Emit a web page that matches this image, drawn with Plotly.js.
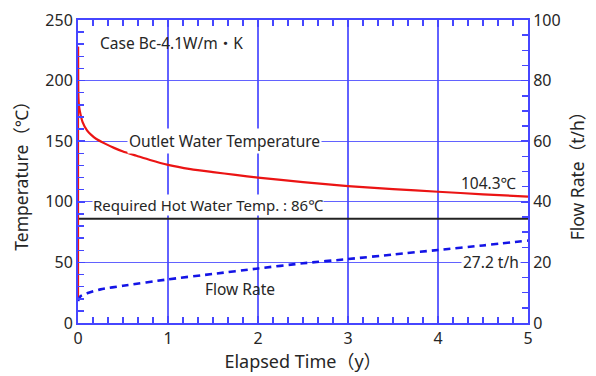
<!DOCTYPE html>
<html>
<head>
<meta charset="utf-8">
<script src="https://cdn.plot.ly/plotly-3.0.1.min.js"></script>
<style>
  html, body { margin: 0; padding: 0; background: #fff; }
  #chart { width: 596px; height: 376px; }
</style>
</head>
<body>
<div id="chart"></div>
<script>
// Outlet water temperature over elapsed time (left axis, °C)
const tempYears = [0, 0, 0.003, 0.01, 0.02, 0.05, 0.1, 0.15, 0.2, 0.3, 0.4, 0.5, 0.65, 0.8, 1, 1.25, 1.5, 1.75, 2, 2.5, 3, 3.5, 4, 4.5, 5];
const tempValues = [21, 228, 190, 180, 175, 166, 159, 155, 152, 148, 144.5, 141.5, 138, 134.5, 130.5, 127, 124.5, 122.2, 120, 116.3, 113, 110.5, 108.3, 106.2, 104.3];

// Flow rate over elapsed time (right axis, t/h)
const flowYears = [0, 0.03, 0.1, 0.25, 0.5, 1, 1.5, 2, 2.5, 3, 3.5, 4, 4.5, 5];
const flowValues = [7.3, 8.9, 9.8, 11.1, 12.3, 14.4, 16.2, 18.0, 19.7, 21.1, 22.6, 24.1, 25.6, 27.2];

// Required hot water temperature (°C)
const requiredYears = [0, 5];
const requiredTemp = 86;

const finalTemp = tempValues[tempValues.length - 1];
const finalFlow = flowValues[flowValues.length - 1];

const FONT = '"Noto Sans", "Noto Sans CJK JP", sans-serif';
const TXT = '#262626';
const AXIS_BLUE = 'rgb(70,70,255)';
const GRID_BLUE = 'rgba(70,70,255,0.85)';
const RED = 'rgb(235,20,20)';

const traces = [
  {
    x: requiredYears, y: requiredYears.map(() => requiredTemp),
    type: 'scatter', mode: 'lines', yaxis: 'y',
    line: { color: '#222', width: 2 }, hoverinfo: 'skip', cliponaxis: false
  },
  // start-up jump at t = 0
  {
    x: tempYears.slice(0, 2), y: tempValues.slice(0, 2),
    type: 'scatter', mode: 'lines', yaxis: 'y',
    line: { color: RED, width: 2.2 }, cliponaxis: false
  },
  // decay of outlet temperature
  {
    x: tempYears.slice(1), y: tempValues.slice(1),
    type: 'scatter', mode: 'lines', yaxis: 'y',
    line: { color: RED, width: 2.2, shape: 'spline', smoothing: 0.6 }, cliponaxis: false
  },
  {
    x: flowYears, y: flowValues,
    type: 'scatter', mode: 'lines', yaxis: 'y2',
    line: { color: 'rgb(20,20,230)', width: 2.6, dash: '7px,5px', shape: 'spline', smoothing: 0.6 }, cliponaxis: false
  }
];

const axisCommon = {
  showline: true, linecolor: AXIS_BLUE, linewidth: 2,
  ticks: 'inside', ticklen: 7, tickwidth: 1.5, tickcolor: AXIS_BLUE,
  zeroline: false,
  tickfont: { family: FONT, size: 16, color: TXT }
};

const ANN_FONT = { family: FONT, size: 15.5, color: TXT };

const layout = {
  width: 596, height: 376,
  margin: { l: 78, r: 68, t: 20, b: 53 },
  paper_bgcolor: '#fff', plot_bgcolor: '#fff',
  showlegend: false,
  font: { family: FONT, color: TXT },
  xaxis: Object.assign({}, axisCommon, {
    range: [0, 5], dtick: 1, mirror: 'ticks',
    showgrid: true, gridcolor: GRID_BLUE, gridwidth: 1.3,
    minor: { dtick: 1 / 6, ticks: 'inside', ticklen: 6, tickwidth: 1.5, tickcolor: AXIS_BLUE, showgrid: false },
    title: { text: 'Elapsed Time（y）', font: { family: FONT, size: 18, color: TXT }, standoff: 7 }
  }),
  yaxis: Object.assign({}, axisCommon, {
    range: [0, 250], dtick: 50,
    showgrid: true, gridcolor: GRID_BLUE, gridwidth: 1.3,
    minor: { dtick: 10, ticks: 'inside', ticklen: 6, tickwidth: 1.5, tickcolor: AXIS_BLUE, showgrid: false },
    title: { text: 'Temperature（℃）', font: { family: FONT, size: 17.5, color: TXT }, standoff: 12 }
  }),
  yaxis2: Object.assign({}, axisCommon, {
    range: [0, 100], dtick: 20, overlaying: 'y', side: 'right',
    showgrid: false,
    minor: { dtick: 5, ticks: 'inside', ticklen: 6, tickwidth: 1.5, tickcolor: AXIS_BLUE },
    title: { text: 'Flow Rate（t/h）', font: { family: FONT, size: 17.5, color: TXT }, standoff: 12 }
  }),
  annotations: [
    { text: 'Case Bc-4.1W/m・K', x: 0.22, y: 231, xref: 'x', yref: 'y', xanchor: 'left', yanchor: 'middle',
      showarrow: false, font: ANN_FONT },
    { text: 'Outlet Water Temperature', x: 0.54, y: 150, xref: 'x', yref: 'y', xanchor: 'left', yanchor: 'middle',
      showarrow: false, bgcolor: '#fff', borderpad: 1, font: ANN_FONT },
    { text: 'Required Hot Water Temp. : ' + requiredTemp + '℃', x: 0.15, y: 97.5, xref: 'x', yref: 'y', xanchor: 'left', yanchor: 'middle',
      showarrow: false, bgcolor: '#fff', borderpad: 0, font: { family: FONT, size: 15, color: TXT } },
    { text: finalTemp.toFixed(1) + '℃', x: 4.9, y: 115.8, xref: 'x', yref: 'y', xanchor: 'right', yanchor: 'middle',
      showarrow: false, font: ANN_FONT },
    { text: finalFlow.toFixed(1) + ' t/h', x: 4.92, y: 20, xref: 'x', yref: 'y2', xanchor: 'right', yanchor: 'middle',
      showarrow: false, bgcolor: '#fff', borderpad: 1, font: ANN_FONT },
    { text: 'Flow Rate', x: 1.8, y: 28, xref: 'x', yref: 'y', xanchor: 'center', yanchor: 'middle',
      showarrow: false, font: ANN_FONT }
  ]
};

Plotly.newPlot('chart', traces, layout, { displayModeBar: false, staticPlot: true });
</script>
</body>
</html>
